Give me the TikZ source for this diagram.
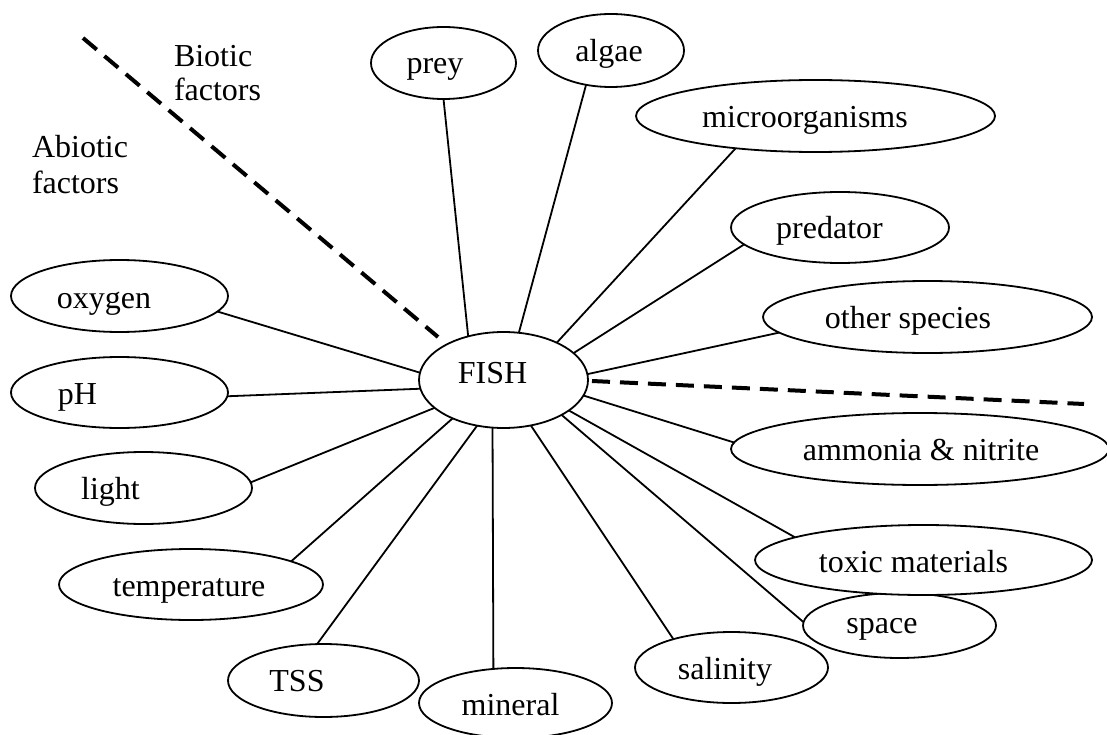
\documentclass[tikz,border=0pt]{standalone}
\usepackage{fontspec}
\setmainfont{Liberation Serif}
\usetikzlibrary{shapes.geometric}
\tikzset{
  ell/.style={draw, ellipse, fill=white, line width=1.8pt, inner sep=0pt, outer sep=0pt,
    font=\fontsize{32pt}{36pt}\selectfont, text depth=0pt},
  conn/.style={line width=1.8pt},
  divider/.style={line width=4pt, dash pattern=on 18pt off 10pt},
  factor/.style={font=\fontsize{32pt}{35pt}\selectfont, align=left, inner sep=0pt, outer sep=0pt},
}
\newcommand\lbl[2]{\makebox[0pt]{\hspace{#1pt}\hspace{#1pt}#2}}
\begin{document}
\begin{tikzpicture}[x=1pt, y=-1pt]
\useasboundingbox (0,0) rectangle (1107,735);
% nodes
\node[ell, minimum width=169pt, minimum height=96pt, text height=6pt] (fish) at (503.5,380) {\lbl{-11}{FISH}};
\node[ell, minimum width=145pt, minimum height=72pt, text height=22pt] (prey) at (443.5,63) {\lbl{-8.5}{prey}};
\node[ell, minimum width=146pt, minimum height=73pt, text height=22pt] (algae) at (611,50.5) {\lbl{-2}{algae}};
\node[ell, minimum width=359pt, minimum height=72pt, text height=23pt] (micro) at (815.5,116) {\lbl{-10.5}{microorganisms}};
\node[ell, minimum width=218pt, minimum height=71pt, text height=23pt] (predator) at (840,227.5) {\lbl{-10.5}{predator}};
\node[ell, minimum width=329pt, minimum height=72pt, text height=22pt] (other) at (927.5,317) {\lbl{-19.5}{other species}};
\node[ell, minimum width=378pt, minimum height=72pt, text height=22pt] (ammonia) at (920,449) {\lbl{1}{ammonia \& nitrite}};
\node[ell, minimum width=193pt, minimum height=65pt, text height=15pt] (space) at (899.5,625.5) {\lbl{-17.5}{space}};
\node[ell, minimum width=337pt, minimum height=70pt, text height=24pt] (toxic) at (923.5,560) {\lbl{-10}{toxic materials}};
\node[ell, minimum width=193pt, minimum height=71pt, text height=23pt] (salinity) at (731.5,667.5) {\lbl{-6.5}{salinity}};
\node[ell, minimum width=193pt, minimum height=70pt, text height=24pt] (mineral) at (515.5,703) {\lbl{-5}{mineral}};
\node[ell, minimum width=191pt, minimum height=73pt, text height=21pt] (tss) at (323.5,680.5) {\lbl{-26.5}{TSS}};
\node[ell, minimum width=264pt, minimum height=71pt, text height=23pt] (temperature) at (191,584.5) {\lbl{-2}{temperature}};
\node[ell, minimum width=217pt, minimum height=72pt, text height=22pt] (light) at (143.5,488) {\lbl{-33}{light}};
\node[ell, minimum width=217pt, minimum height=71pt, text height=23pt] (ph) at (119.5,392.5) {\lbl{-42}{pH}};
\node[ell, minimum width=217pt, minimum height=72pt, text height=24pt] (oxygen) at (119.5,296) {\lbl{-15.5}{oxygen}};
% labels
\node[factor, anchor=north west] (biotic) at (174,45) {Biotic\\[-1pt]factors};
\node[factor, anchor=north west] (abiotic) at (32,135) {Abiotic\\[1pt]factors};
% connectors
\draw[conn] (fish.129.7) -- (prey.-90);
\draw[conn] (fish.72.1) -- (algae.-126.3);
\draw[conn] (fish.35.4) -- (micro.-158);
\draw[conn] (fish.21.7) -- (predator.-170.6);
\draw[conn] (fish.4.1) -- (other.-174);
\draw[conn] (fish.-11.1) -- (ammonia.178.5);
\draw[conn] (fish.-25.7) -- (toxic.170.8);
\draw[conn] (fish.-31.9) -- (space.178);
\draw[conn] (fish.-59.7) -- (salinity.154.4);
\draw[conn] (fish.-103.5) -- (mineral.123.2);
\draw[conn] (fish.-120.3) -- (tss.100.1);
\draw[conn] (fish.-143.4) -- (temperature.13.4);
\draw[conn] (fish.-158.3) -- (light.3.7);
\draw[conn] (fish.-174.6) -- (ph.-2.4);
\draw[conn] (fish.175.3) -- (oxygen.-9.9);
% dividers
\coordinate (d1s) at (83,38);
\coordinate (d1e) at (438,337);
\coordinate (d2s) at (592,381);
\coordinate (d2e) at (1084,404);
\draw[divider] (d1s) -- (d1e);
\draw[divider] (d2s) -- (d2e);
\end{tikzpicture}
\end{document}
